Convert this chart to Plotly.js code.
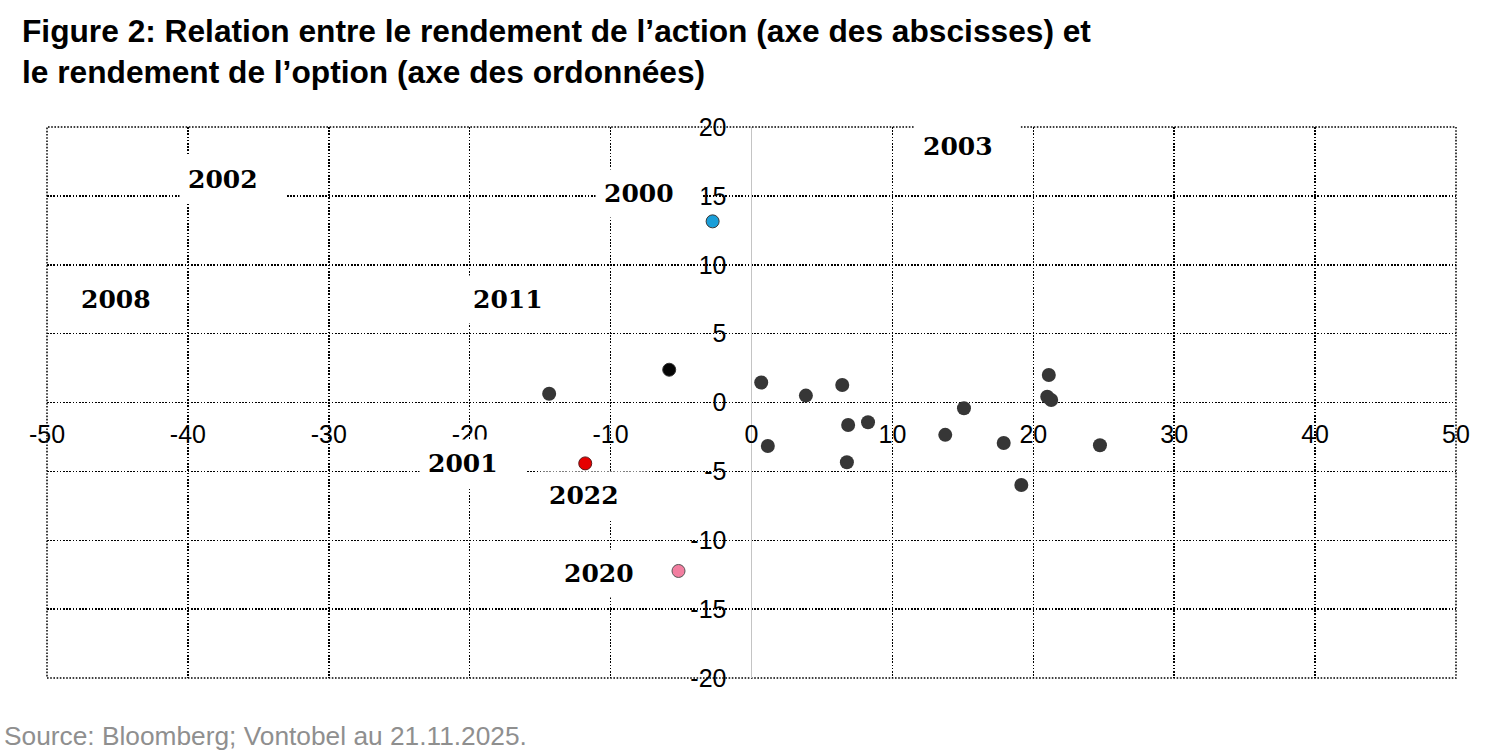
<!DOCTYPE html>
<html>
<head>
<meta charset="utf-8">
<script src="https://cdn.plot.ly/plotly-3.0.1.min.js"></script>
<style>html,body{margin:0;padding:0;background:#fff;}#chart{width:1500px;height:751px;}</style>
</head>
<body>
<div id="chart"></div>
<script>
// Stock return (x) vs option return (y), in %
const greyX = [-14.36, 0.69, 1.16, 3.86, 6.44, 6.86, 6.77, 8.27, 13.75, 15.08, 17.9, 19.15, 21.1, 20.99, 21.27, 24.73];
const greyY = [0.64, 1.45, -3.16, 0.50, 1.27, -1.63, -4.34, -1.43, -2.35, -0.42, -2.94, -5.99, 2.0, 0.42, 0.18, -3.1];
const blackX = [-5.84];
const blackY = [2.38];
const blueX = [-2.76];
const blueY = [13.15];
const redX = [-11.8];
const redY = [-4.42];
const pinkX = [-5.18];
const pinkY = [-12.23];

// Year labels (placed in data coordinates)
const yearLabels = ['2002', '2000', '2008', '2011', '2003', '2001', '2022', '2020'];
const yearLabelX = [-36.83, -7.33, -44.43, -16.61, 15.33, -19.8, -11.21, -10.15];
const yearLabelY = [16.22, 15.17, 7.51, 7.51, 18.62, -4.46, -6.72, -12.41];

const xTicks = [-50, -40, -30, -20, -10, 0, 10, 20, 30, 40, 50];
const yTicks = [-20, -15, -10, -5, 0, 5, 10, 15, 20];

const titleLine1 = 'Figure 2: Relation entre le rendement de l’action (axe des abscisses) et';
const titleLine2 = 'le rendement de l’option (axe des ordonnées)';
const sourceText = 'Source: Bloomberg; Vontobel au 21.11.2025.';

function sc(x, y, color, size, lineColor, lineWidth) {
  return {
    x: x, y: y, type: 'scatter', mode: 'markers', hoverinfo: 'skip', showlegend: false,
    marker: {color: color, size: size, line: {color: lineColor, width: lineWidth}}
  };
}

const data = [
  sc(greyX, greyY, '#363636', 14, '#363636', 0),
  sc(blackX, blackY, '#050505', 13, '#333333', 1),
  sc(blueX, blueY, '#1a9ed8', 13, '#3a3a3a', 1),
  sc(redX, redY, '#e60000', 13, '#5a1a1a', 1),
  sc(pinkX, pinkY, '#f27ea0', 13, '#555555', 1)
];

const annotations = yearLabels.map((t, i) => ({
  x: yearLabelX[i], y: yearLabelY[i], xref: 'x', yref: 'y',
  text: t, showarrow: false, xanchor: 'center', yanchor: 'middle',
  width: 89, height: 31, borderpad: 8, align: 'left', valign: 'middle',
  bgcolor: '#ffffff',
  font: {family: 'DejaVu Serif', size: 25, color: '#000000', weight: 'bold'}
}));

annotations.push({
  xref: 'paper', yref: 'paper', x: -0.0192, y: 1.174, xanchor: 'left', yanchor: 'middle',
  text: '<b>' + titleLine1 + '</b>', showarrow: false, align: 'left',
  font: {family: 'Liberation Sans, Arial, sans-serif', size: 31.7, color: '#000000'}
});
annotations.push({
  xref: 'paper', yref: 'paper', x: -0.0192, y: 1.0995, xanchor: 'left', yanchor: 'middle',
  text: '<b>' + titleLine2 + '</b>', showarrow: false, align: 'left',
  font: {family: 'Liberation Sans, Arial, sans-serif', size: 31.7, color: '#000000'}
});
annotations.push({
  xref: 'paper', yref: 'paper', x: -0.0318, y: -0.106, xanchor: 'left', yanchor: 'middle',
  text: sourceText, showarrow: false, align: 'left',
  font: {family: 'Liberation Sans, Arial, sans-serif', size: 26.3, color: '#8f8f8f'}
});

const dotDash = '1.6px,1.6px';
const gridStyle = {gridcolor: '#000000', gridwidth: 1.5, griddash: dotDash};

const layout = {
  width: 1500, height: 751,
  margin: {l: 47, r: 44, t: 127, b: 73},
  paper_bgcolor: '#ffffff', plot_bgcolor: '#ffffff',
  showlegend: false,
  font: {family: 'Liberation Sans, Arial, sans-serif', color: '#000000'},
  xaxis: Object.assign({
    range: [-50, 50], tickvals: xTicks, ticktext: xTicks.map(String),
    showgrid: true, zeroline: true, zerolinecolor: '#c4c4c4', zerolinewidth: 1.5,
    showline: false, ticks: '', anchor: 'free', position: 0.5,
    ticklabelstandoff: 14,
    tickfont: {size: 25, color: '#000000'}, fixedrange: true
  }, gridStyle),
  yaxis: Object.assign({
    range: [-20, 20], tickvals: yTicks, ticktext: yTicks.map(String),
    showgrid: true, zeroline: false,
    showline: false, ticks: '', anchor: 'free', position: 0.5,
    ticklabelstandoff: 25,
    tickfont: {size: 25, color: '#000000'}, fixedrange: true
  }, gridStyle),
  shapes: [{
    type: 'rect', xref: 'paper', yref: 'paper', x0: 0, x1: 1, y0: 0, y1: 1,
    layer: 'below', line: {color: '#000000', width: 1.5, dash: dotDash}, fillcolor: 'rgba(0,0,0,0)'
  }],
  annotations: annotations
};

Plotly.newPlot('chart', data, layout, {displayModeBar: false, staticPlot: true});
</script>
</body>
</html>
